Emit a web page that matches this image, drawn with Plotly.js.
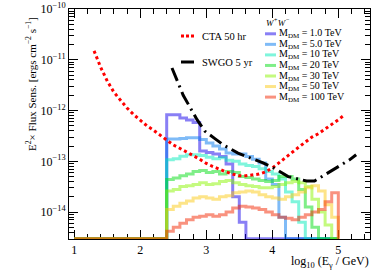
<!DOCTYPE html>
<html>
<head>
<meta charset="utf-8">
<script src="https://cdn.plot.ly/plotly-3.0.1.min.js"></script>
<style>
html,body{margin:0;padding:0;background:#fff;}
#chart{width:382px;height:275px;}
</style>
</head>
<body>
<div id="chart"></div>
<script>
// ---------- DATA ----------
// log10(E/GeV) bin edges (bin width 0.1)
const binEdges = [1.0,1.1,1.2,1.3,1.4,1.5,1.6,1.7,1.8,1.9,2.0,2.1,2.2,2.3,2.4,2.5,2.6,2.7,2.8,2.9,
                  3.0,3.1,3.2,3.3,3.4,3.5,3.6,3.7,3.8,3.9,4.0,4.1,4.2,4.3,4.4,4.5,4.6,4.7,4.8,4.9,5.0];

// E^2 x flux sensitivity per bin [erg cm^-2 s^-1]; 0 = empty bin
const zeros14 = [0,0,0,0,0,0,0,0,0,0,0,0,0,0]; // bins 1.0 .. 2.3
const sens_1TeV = zeros14.concat([8.3e-13,8.3e-13,7.1e-13,6.5e-13,5.8e-13,1.6e-13,1.5e-13,1.4e-13,1.25e-13,8.9e-14,2.0e-14,6.3e-15,
                  0,0,0,0,0,0,0,0,0,0,0,0,0,0]);
const sens_5TeV = zeros14.concat([2.75e-13,2.75e-13,2.8e-13,2.9e-13,2.9e-13,2.7e-13,2.3e-13,2.0e-13,1.75e-13,1.45e-13,1.4e-13,1.4e-13,
                  1.25e-13,1.1e-13,9.3e-14,4.5e-14,3.5e-14,7.9e-15,0,0,0,0,0,0,0,0]);
const sens_10TeV = zeros14.concat([1.07e-13,1.12e-13,1.26e-13,1.35e-13,1.35e-13,1.3e-13,1.2e-13,1.12e-13,1.17e-13,1.05e-13,1.0e-13,8.9e-14,
                  8.3e-14,7.9e-14,7.1e-14,6.3e-14,5.6e-14,4.5e-14,2.5e-14,1.6e-14,6.3e-15,0,0,0,0,0]);
const sens_20TeV = zeros14.concat([4.4e-14,4.7e-14,5.2e-14,5.6e-14,6.3e-14,6.6e-14,6.0e-14,6.3e-14,5.6e-14,6.3e-14,6.0e-14,5.0e-14,
                  4.8e-14,4.5e-14,4.2e-14,4.0e-14,4.2e-14,5.0e-14,5.0e-14,4.5e-14,2.8e-14,1.26e-14,5.0e-15,0,0,0]);
const sens_30TeV = zeros14.concat([2.6e-14,2.8e-14,3.2e-14,3.3e-14,3.5e-14,3.8e-14,3.5e-14,3.6e-14,4.0e-14,4.2e-14,3.8e-14,3.5e-14,
                  3.3e-14,3.2e-14,3.0e-14,3.0e-14,3.2e-14,3.5e-14,3.8e-14,4.0e-14,3.8e-14,3.2e-14,1.8e-14,1.0e-14,5.6e-15,0]);
const sens_50TeV = zeros14.concat([1.12e-14,1.3e-14,1.5e-14,1.66e-14,1.9e-14,2.0e-14,1.9e-14,1.8e-14,2.0e-14,2.1e-14,2.4e-14,2.5e-14,
                  2.6e-14,2.5e-14,2.2e-14,2.0e-14,1.9e-14,1.8e-14,2.0e-14,2.2e-14,2.5e-14,3.0e-14,3.3e-14,2.6e-14,1.4e-14,7.9e-15]);
const sens_100TeV = zeros14.concat([4.2e-15,5.0e-15,6.0e-15,7.1e-15,7.9e-15,8.3e-15,8.9e-15,8.3e-15,8.9e-15,1.0e-14,1.2e-14,1.3e-14,
                  1.26e-14,1.2e-14,1.12e-14,1.0e-14,8.9e-15,7.9e-15,7.6e-15,7.1e-15,7.9e-15,8.9e-15,1.0e-14,1.12e-14,1.6e-14,2.4e-14]);

const massLabels = ["1.0","5.0","10","20","30","50","100"];

// CTA 50 hr sensitivity curve
const ctaLogE = [1.3,1.4,1.5,1.6,1.7,1.8,1.9,2.0,2.1,2.2,2.3,2.4,2.5,2.6,2.7,2.8,2.9,3.0,3.1,3.2,3.3,3.4,3.5,3.6,3.7,3.8,3.9,
                 4.0,4.1,4.2,4.3,4.4,4.5,4.6,4.7,4.8,4.9,5.0,5.1];
const ctaSens = [1.5e-11,7.1e-12,3.8e-12,2.3e-12,1.6e-12,1.12e-12,8.3e-13,6.3e-13,5.0e-13,4.1e-13,3.3e-13,2.6e-13,2.1e-13,1.8e-13,
                 1.55e-13,1.3e-13,1.1e-13,9.1e-14,7.9e-14,6.9e-14,6.2e-14,5.6e-14,5.2e-14,5.2e-14,5.4e-14,5.6e-14,6.2e-14,
                 7.4e-14,9.3e-14,1.2e-13,1.5e-13,1.9e-13,2.4e-13,3.0e-13,3.5e-13,4.3e-13,5.2e-13,6.6e-13,8.3e-13];

// SWGO 5 yr sensitivity curve
const swgoLogE = [2.48,2.65,2.86,2.98,3.13,3.26,3.48,3.69,3.86,4.04,4.24,4.42,4.52,4.64,4.84,4.99,5.17,5.27];
const swgoSens = [6.9e-12,2.0e-12,6.6e-13,3.9e-13,2.8e-13,2.1e-13,1.45e-13,1.15e-13,9.3e-14,7.2e-14,5.0e-14,4.4e-14,
                  4.1e-14,4.1e-14,5.9e-14,7.9e-14,1.07e-13,1.35e-13];

// axis tick labels
const xTickVals = [1,2,3,4,5];
const xTickText = ['1','2','3','4','5'];
const yTickExp = [-14,-13,-12,-11,-10];

// ---------- STYLE ----------
const Y_MIN_LOG = -14.53, Y_MAX_LOG = -10;
const FLOOR = Math.pow(10, Y_MIN_LOG + 0.006); // empty bins drawn on the frame, like ROOT
const histColors = ['rgba(20,0,235,0.5)','rgba(0,120,240,0.5)','rgba(0,235,185,0.5)','rgba(0,221,17,0.5)',
                    'rgba(137,245,0,0.5)','rgba(251,201,17,0.5)','rgba(243,37,0,0.5)'];
const FONT = 'Liberation Serif, Times New Roman, serif';

const series = [sens_1TeV,sens_5TeV,sens_10TeV,sens_20TeV,sens_30TeV,sens_50TeV,sens_100TeV];

const traces = [];
series.forEach((vals, k) => {
  const xs = [], ys = [];
  for (let i = 0; i < vals.length; i++) {
    xs.push(binEdges[i]);
    ys.push(vals[i] > 0 ? vals[i] : FLOOR);
  }
  xs.push(binEdges[vals.length]);
  ys.push(FLOOR);
  traces.push({x: xs, y: ys, type: 'scatter', mode: 'lines', line: {shape: 'hv', color: histColors[k], width: 3},
               hoverinfo: 'skip', showlegend: false});
});
traces.push({x: ctaLogE, y: ctaSens, type: 'scatter', mode: 'lines',
             line: {color: '#ff0000', width: 3, dash: '3px,3px'}, showlegend: false});
traces.push({x: swgoLogE, y: swgoSens, type: 'scatter', mode: 'lines',
             line: {color: '#000000', width: 3, dash: '14px,5px,2px,5px'}, showlegend: false});

// minor tick positions (axis decoration)
const yMinor = [];
for (let e = -15; e <= -11; e++) for (let m = 2; m <= 9; m++) {
  const v = m * Math.pow(10, e);
  if (Math.log10(v) > Y_MIN_LOG && Math.log10(v) < Y_MAX_LOG) yMinor.push(v);
}
const xMinor = [];
for (let i = 5; i <= 27; i++) if (i % 5 !== 0) xMinor.push(i / 5);

// plot-area geometry in pixels (for legend placement)
const W = 382, H = 275, ML = 69, MR = 12, MT = 9, MB = 36;
const PW = W - ML - MR, PH = H - MT - MB;
const px = x => (x - ML) / PW;
const py = y => (H - MB - y) / PH;

const shapes = [], annotations = [];
// left legend
shapes.push({type:'line', xref:'paper', yref:'paper', x0:px(181), x1:px(196), y0:py(36), y1:py(36),
             line:{color:'#ff0000', width:3, dash:'3px,2px'}});
annotations.push({xref:'paper', yref:'paper', x:px(200), y:py(36), xanchor:'left', yanchor:'middle', showarrow:false,
                  text:'CTA 50 hr', font:{family:FONT, size:10.5, color:'#000'}});
shapes.push({type:'line', xref:'paper', yref:'paper', x0:px(181), x1:px(194), y0:py(62), y1:py(62),
             line:{color:'#000', width:3}});
annotations.push({xref:'paper', yref:'paper', x:px(200), y:py(62), xanchor:'left', yanchor:'middle', showarrow:false,
                  text:'SWGO 5 yr', font:{family:FONT, size:10.5, color:'#000'}});
// right legend
annotations.push({xref:'paper', yref:'paper', x:px(264), y:py(22), xanchor:'left', yanchor:'middle', showarrow:false,
                  text:'<i>W<sup>+</sup>W<sup>−</sup></i>', font:{family:FONT, size:9, color:'#000'}});
massLabels.forEach((m, k) => {
  const yy = 33.8 + k * 10.55;
  shapes.push({type:'line', xref:'paper', yref:'paper', x0:px(265), x1:px(276), y0:py(yy), y1:py(yy),
               line:{color:histColors[k], width:3}});
  annotations.push({xref:'paper', yref:'paper', x:px(277), y:py(yy), xanchor:'left', yanchor:'middle', showarrow:false,
                    text:'M<sub>DM</sub> = ' + m + ' TeV', font:{family:FONT, size:10, color:'#000'}});
});
// axis titles
annotations.push({xref:'paper', yref:'paper', x:px(31), y:py(84), xanchor:'center', yanchor:'middle', showarrow:false,
                  textangle:-90, text:'E<sup>2</sup>× Flux Sens. [ergs cm<sup>−2</sup> s<sup>−1</sup>]',
                  font:{family:FONT, size:11, color:'#000'}});
annotations.push({xref:'paper', yref:'paper', x:px(371), y:py(261.5), xanchor:'right', yanchor:'middle', showarrow:false,
                  text:'log<sub>10</sub> (E<sub>γ</sub> / GeV)', font:{family:FONT, size:12, color:'#000'}});

const layout = {
  width: W, height: H,
  margin: {l: ML, r: MR, t: MT, b: MB, pad: 0},
  paper_bgcolor: '#fff', plot_bgcolor: '#fff',
  showlegend: false,
  font: {family: FONT, size: 12, color: '#000'},
  xaxis: {range: [0.92, 5.48], tickmode: 'array', tickvals: xTickVals, ticktext: xTickText,
          ticks: 'inside', ticklen: 9, tickcolor: '#000', tickwidth: 1,
          minor: {tickmode: 'array', tickvals: xMinor, ticks: 'inside', ticklen: 5, tickcolor: '#000', tickwidth: 1, showgrid: false},
          showline: true, linecolor: '#000', linewidth: 1, mirror: 'ticks', showgrid: false, zeroline: false,
          tickfont: {family: FONT, size: 12, color: '#000'}, layer: 'below traces'},
  yaxis: {type: 'log', range: [Y_MIN_LOG, Y_MAX_LOG], tickmode: 'array',
          tickvals: yTickExp.map(e => Math.pow(10, e)),
          ticktext: yTickExp.map(e => '10<sup>−' + (-e) + '</sup>'),
          ticks: 'inside', ticklen: 9, tickcolor: '#000', tickwidth: 1,
          minor: {tickmode: 'array', tickvals: yMinor, ticks: 'inside', ticklen: 5, tickcolor: '#000', tickwidth: 1, showgrid: false},
          showline: true, linecolor: '#000', linewidth: 1, mirror: 'ticks', showgrid: false, zeroline: false,
          tickfont: {family: FONT, size: 12, color: '#000'}, layer: 'below traces'},
  shapes: shapes,
  annotations: annotations
};

Plotly.newPlot('chart', traces, layout, {staticPlot: true, displayModeBar: false});
</script>
</body>
</html>
